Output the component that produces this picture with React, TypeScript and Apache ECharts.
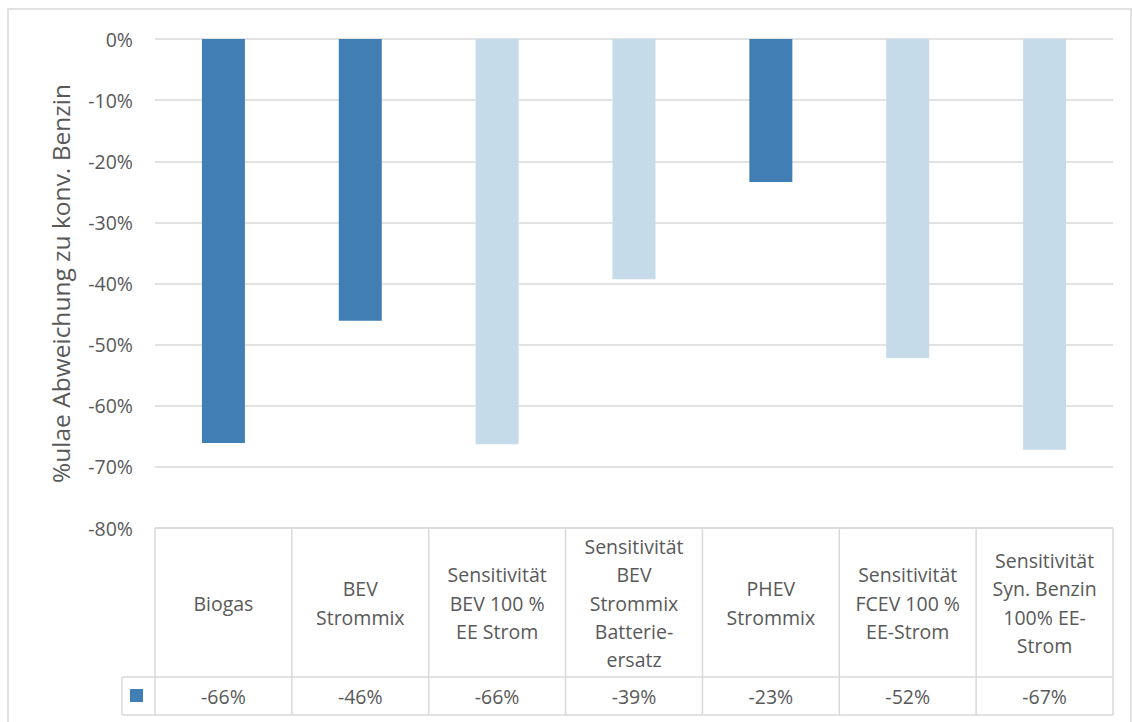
import React, { useEffect, useRef } from "react";
import * as echarts from "echarts";

const categories: string[] = [
  "Biogas",
  "BEV\nStrommix",
  "Sensitivität\nBEV 100 %\nEE Strom",
  "Sensitivität\nBEV\nStrommix\nBatterie-\nersatz",
  "PHEV\nStrommix",
  "Sensitivität\nFCEV 100 %\nEE-Strom",
  "Sensitivität\nSyn. Benzin\n100% EE-\nStrom",
];
const values: number[] = [-66.1, -46.1, -66.3, -39.3, -23.4, -52.2, -67.2];
const yTicks = { min: -80, max: 0, interval: 10 };
const yTitle = "%ulae Abweichung zu konv. Benzin";

const DARK = "#417EB4";
const LIGHT = "#C6DBEA";
const GRID = "#D9D9D9";
const TEXT = "#595959";
const FONT = "'Open Sans', 'Noto Sans', sans-serif";

export default function App() {
  const ref = useRef<HTMLDivElement>(null);
  useEffect(() => {
    if (!ref.current) return;
    const chart = echarts.init(ref.current, null, { renderer: "svg" });
    const W = 1132;
    const H = 722;
    const gl = 155;
    const gr = 1113;
    const gt = 39;
    const gb = 528;
    const rowMid = 677;
    const rowBot = 715;
    const keyLeft = 122;
    const colW = (gr - gl) / categories.length;

    const lineStyle = { stroke: GRID, lineWidth: 1.5 };
    const graphics: any[] = [
      {
        type: "rect",
        shape: { x: 8, y: 9, width: W - 8 - 1, height: H },
        style: { fill: "none", stroke: GRID, lineWidth: 1.5 },
        silent: true,
      },
      { type: "line", shape: { x1: gl, y1: gb, x2: gr, y2: gb }, style: lineStyle },
      { type: "line", shape: { x1: keyLeft, y1: rowMid, x2: gr, y2: rowMid }, style: lineStyle },
      { type: "line", shape: { x1: keyLeft, y1: rowBot, x2: gr, y2: rowBot }, style: lineStyle },
      { type: "line", shape: { x1: keyLeft, y1: rowMid, x2: keyLeft, y2: rowBot }, style: lineStyle },
      {
        type: "rect",
        shape: { x: 130, y: 689, width: 13, height: 13 },
        style: { fill: DARK },
      },
    ];
    for (let k = 0; k <= categories.length; k++) {
      const x = gl + k * colW;
      graphics.push({ type: "line", shape: { x1: x, y1: gb, x2: x, y2: rowBot }, style: lineStyle });
    }

    chart.setOption({
      animation: false,
      textStyle: { fontFamily: FONT },
      grid: { left: gl, right: W - gr, top: gt, bottom: H - gb, containLabel: false },
      xAxis: [
        {
          type: "category",
          data: categories,
          position: "bottom",
          axisLine: { show: false },
          axisTick: { show: false },
          splitLine: { show: false },
          axisLabel: {
            interval: 0,
            color: TEXT,
            fontSize: 19.5,
            fontFamily: FONT,
            lineHeight: 28.3,
            align: "center",
            verticalAlign: "middle",
            margin: 75,
          },
        },
        {
          type: "category",
          data: categories,
          position: "bottom",
          axisLine: { show: false },
          axisTick: { show: false },
          splitLine: { show: false },
          axisLabel: {
            interval: 0,
            color: TEXT,
            fontSize: 19.5,
            fontFamily: FONT,
            verticalAlign: "middle",
            margin: 168,
            formatter: (_v: string, i: number) => `${Math.round(values[i])}%`,
          },
        },
      ],
      yAxis: {
        type: "value",
        min: yTicks.min,
        max: yTicks.max,
        interval: yTicks.interval,
        name: yTitle,
        nameLocation: "middle",
        nameGap: 82,
        nameTextStyle: { color: TEXT, fontSize: 24.5, fontFamily: FONT },
        axisLine: { show: false },
        axisTick: { show: false },
        splitLine: { lineStyle: { color: GRID, width: 1.5 } },
        axisLabel: {
          color: TEXT,
          fontSize: 19.5,
          fontFamily: FONT,
          margin: 22,
          formatter: (v: number) => `${v}%`,
        },
      },
      series: [
        {
          type: "bar",
          xAxisIndex: 0,
          barWidth: 43,
          data: values.map((v, i) => ({
            value: v,
            itemStyle: { color: categories[i].startsWith("Sensitivität") ? LIGHT : DARK },
          })),
        },
      ],
      graphic: graphics,
    });
    return () => chart.dispose();
  }, []);
  return (
    <div
      ref={ref}
      style={{ position: "absolute", left: 0, top: 0, width: 1132, height: 722, background: "#fff" }}
    />
  );
}
